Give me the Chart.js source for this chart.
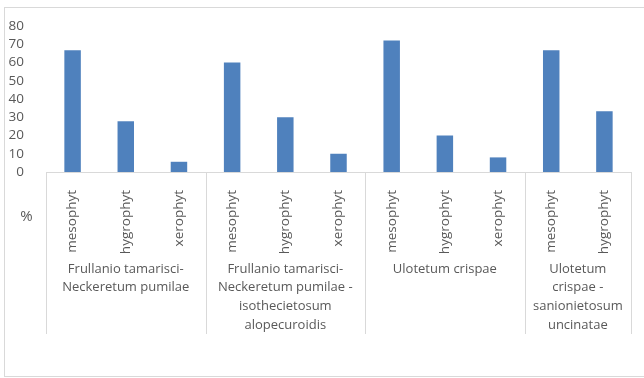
<!DOCTYPE html>
<html>
<head>
<meta charset="utf-8">
<script src="https://cdn.jsdelivr.net/npm/chart.js@4/dist/chart.umd.min.js"></script>
<style>
  html, body { margin: 0; padding: 0; background: #ffffff; }
  #wrap { width: 644px; height: 378px; position: relative; }
</style>
</head>
<body>
<div id="wrap"><canvas id="c" width="644" height="378"></canvas></div>
<script>
// Ecological groups per association (share of species, %)
const categories = [
  'mesophyt', 'hygrophyt', 'xerophyt',
  'mesophyt', 'hygrophyt', 'xerophyt',
  'mesophyt', 'hygrophyt', 'xerophyt',
  'mesophyt', 'hygrophyt'
];
const values = [66.7, 27.8, 5.6, 60, 30, 10, 72, 20, 8, 66.7, 33.3];
const yTicks = [0, 10, 20, 30, 40, 50, 60, 70, 80];
// Associations: label lines and number of categories each one spans
const groupLabels = [
  ['Frullanio tamarisci-', 'Neckeretum pumilae'],
  ['Frullanio tamarisci-', 'Neckeretum pumilae -', 'isothecietosum', 'alopecuroidis'],
  ['Ulotetum crispae'],
  ['Ulotetum', 'crispae -', 'sanionietosum', 'uncinatae']
];
const groupSizes = [3, 3, 3, 2];
const unitLabel = '%';

const FONT = '"Open Sans", sans-serif';
const TEXT = '#595959';
const LINE = '#d9d9d9';

const frame = {
  id: 'frame',
  beforeDraw(chart) {
    const ctx = chart.ctx;
    ctx.save();
    ctx.fillStyle = '#ffffff';
    ctx.fillRect(0, 0, chart.width, chart.height);
    ctx.strokeStyle = LINE;
    ctx.lineWidth = 1;
    ctx.strokeRect(4.5, 7.5, chart.width + 10, 369);
    ctx.restore();
  }
};

const groupAxis = {
  id: 'groupAxis',
  afterDraw(chart) {
    const ctx = chart.ctx;
    const x = chart.scales.x;
    const area = chart.chartArea;
    const step = x.getPixelForValue(1) - x.getPixelForValue(0);
    const lineBottom = 334;
    ctx.save();
    ctx.strokeStyle = LINE;
    ctx.lineWidth = 1;
    ctx.fillStyle = TEXT;
    ctx.font = '13px ' + FONT;
    ctx.textAlign = 'center';
    ctx.textBaseline = 'middle';
    let idx = 0;
    const edges = [];
    groupSizes.forEach((n, g) => {
      const left = x.getPixelForValue(idx) - step / 2;
      const right = x.getPixelForValue(idx + n - 1) + step / 2;
      if (g === 0) edges.push(left);
      edges.push(right);
      const cx = (left + right) / 2;
      groupLabels[g].forEach((line, k) => {
        ctx.fillText(line, cx, 269 + k * 18.7);
      });
      idx += n;
    });
    edges.forEach(e => {
      const px = Math.round(e) + 0.5;
      ctx.beginPath();
      ctx.moveTo(px, area.bottom);
      ctx.lineTo(px, lineBottom);
      ctx.stroke();
    });
    ctx.font = '15px ' + FONT;
    ctx.fillText(unitLabel, 26.5, 217);
    ctx.restore();
  }
};

new Chart(document.getElementById('c'), {
  type: 'bar',
  data: {
    labels: categories,
    datasets: [{
      data: values,
      backgroundColor: '#4f81bd',
      borderWidth: 0,
      categoryPercentage: 1,
      barPercentage: 0.31
    }]
  },
  options: {
    responsive: false,
    animation: false,
    devicePixelRatio: 1,
    layout: { padding: { top: 26, right: 13, bottom: 20, left: 0 } },
    plugins: { legend: { display: false }, tooltip: { enabled: false } },
    scales: {
      x: {
        grid: { display: false },
        border: { display: true, color: LINE, width: 1 },
        ticks: {
          color: TEXT,
          font: { family: FONT, size: 13.5 },
          minRotation: 90,
          maxRotation: 90,
          autoSkip: false,
          padding: 10
        },
        afterFit(scale) { scale.height = 186; }
      },
      y: {
        min: 0,
        max: 80,
        afterBuildTicks(scale) { scale.ticks = yTicks.map(v => ({ value: v })); },
        grid: { display: false },
        border: { display: false },
        ticks: {
          color: TEXT,
          font: { family: FONT, size: 13.5 },
          padding: 14,
          autoSkip: false
        },
        afterFit(scale) { scale.width = 46; }
      }
    }
  },
  plugins: [frame, groupAxis]
});
</script>
</body>
</html>
